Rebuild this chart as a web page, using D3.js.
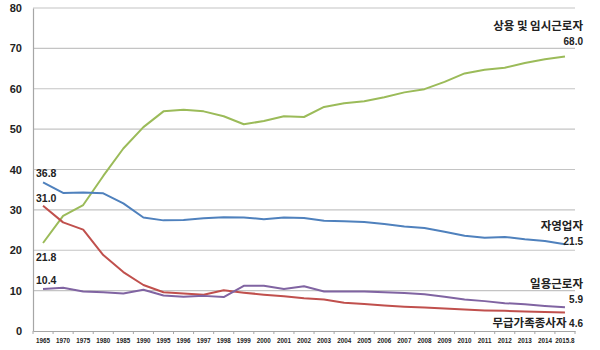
<!DOCTYPE html>
<html><head><meta charset="utf-8">
<script src="https://cdn.jsdelivr.net/npm/d3@7"></script>
<style>body{margin:0;background:#fff}svg{display:block}</style>
</head><body><svg id="c" width="600" height="350"></svg>
<script>
const categories = ["1965","1970","1975","1980","1985","1990","1995","1996","1997","1998","1999","2000","2001","2002","2003","2004","2005","2006","2007","2008","2009","2010","2011","2012","2013","2014","2015.8"];
const regular = [21.8,28.5,31.2,38.4,45.2,50.5,54.4,54.8,54.4,53.2,51.2,52.0,53.2,53.0,55.5,56.4,56.9,57.9,59.1,59.9,61.7,63.8,64.7,65.2,66.4,67.3,68.0];
const selfEmployed = [36.8,34.2,34.3,34.1,31.6,28.1,27.4,27.5,27.9,28.2,28.1,27.7,28.1,28.0,27.3,27.2,27.0,26.5,25.9,25.5,24.6,23.6,23.1,23.3,22.7,22.3,21.5];
const daily = [10.4,10.7,9.8,9.6,9.3,10.2,8.8,8.5,8.7,8.4,11.2,11.2,10.4,11.1,9.8,9.8,9.8,9.6,9.4,9.1,8.5,7.8,7.4,6.9,6.6,6.2,5.9];
const unpaid = [31.0,26.9,25.1,18.8,14.6,11.4,9.6,9.3,9.0,10.1,9.5,9.0,8.6,8.1,7.8,7.0,6.7,6.3,6.0,5.8,5.6,5.3,5.1,5.0,4.8,4.7,4.6];
const yTicks = [0,10,20,30,40,50,60,70,80];
const seriesNames = ["상용 및 임시근로자","자영업자","일용근로자","무급가족종사자"];

const svg = d3.select("#c");
const x = d3.scaleBand().domain(categories).range([33,575]);
const y = d3.scaleLinear().domain([0,80]).range([331,8]);
const numFont = "'Liberation Sans', Arial, sans-serif";
const korFont = "'Noto Sans CJK KR', sans-serif";

// gridlines
svg.append("g").selectAll("line").data(yTicks.filter(d=>d>0)).join("line")
  .attr("x1",33).attr("x2",575).attr("y1",d=>y(d)).attr("y2",d=>y(d))
  .attr("stroke","#c4c4c4").attr("stroke-width",1.2);

// y axis
const yAxis = svg.append("g").attr("transform","translate(33,0)")
  .call(d3.axisLeft(y).tickValues(yTicks).tickSize(0).tickPadding(11));
yAxis.select(".domain").attr("stroke","#a6a6a6").attr("stroke-width",1.2);
yAxis.selectAll("text").attr("font-family",numFont).attr("font-weight","bold")
  .attr("font-size",11).attr("fill","#222");

// x axis
const xAxis = svg.append("g").attr("transform","translate(0,331)")
  .call(d3.axisBottom(x).tickSize(0).tickPadding(8));
xAxis.select(".domain").attr("stroke","#a6a6a6").attr("stroke-width",1.2);
xAxis.selectAll("text").attr("font-family",numFont).attr("font-weight","bold")
  .attr("font-size",6.3).attr("fill","#222");
// boundary tick marks
const bounds = categories.map(c=>x(c)).concat([x(categories[categories.length-1])+x.bandwidth()]);
svg.append("g").selectAll("line").data(bounds).join("line")
  .attr("x1",d=>d).attr("x2",d=>d).attr("y1",331).attr("y2",334)
  .attr("stroke","#a6a6a6");

const cx = c => x(c)+x.bandwidth()/2;
const line = d3.line().x((d,i)=>cx(categories[i])).y(d=>y(d));
const series = [
  {v:regular,color:"#9bbb59"},
  {v:selfEmployed,color:"#4f81bd"},
  {v:unpaid,color:"#c0504d"},
  {v:daily,color:"#8064a2"}
];
svg.append("g").selectAll("path").data(series).join("path")
  .attr("d",d=>line(d.v)).attr("fill","none").attr("stroke",d=>d.color)
  .attr("stroke-width",2).attr("stroke-linejoin","round");

// start value labels
const n = categories.length-1;
const startLabels = [
  {t:selfEmployed[0].toFixed(1), yy:y(selfEmployed[0])-5},
  {t:unpaid[0].toFixed(1), yy:y(unpaid[0])-4},
  {t:regular[0].toFixed(1), yy:y(regular[0])+18},
  {t:daily[0].toFixed(1), yy:y(daily[0])-5}
];
svg.append("g").selectAll("text").data(startLabels).join("text")
  .attr("x",36).attr("y",d=>d.yy).text(d=>d.t)
  .attr("font-family",numFont).attr("font-weight","bold").attr("font-size",10.5).attr("fill","#222");

// end labels
const endG = svg.append("g").attr("fill","#222").attr("text-anchor","end");
const endLabels = [
  {name:seriesNames[0], nameY:y(regular[n])-26, val:regular[n].toFixed(1), valY:y(regular[n])-11},
  {name:seriesNames[1], nameY:y(selfEmployed[n])-14, val:selfEmployed[n].toFixed(1), valY:y(selfEmployed[n])+1},
  {name:seriesNames[2], nameY:y(daily[n])-19, val:daily[n].toFixed(1), valY:y(daily[n])-4}
];
endLabels.forEach(d=>{
  endG.append("text").attr("x",583).attr("y",d.nameY).text(d.name)
    .attr("font-family",korFont).attr("font-weight","bold").attr("font-size",11.5);
  endG.append("text").attr("x",583).attr("y",d.valY).text(d.val)
    .attr("font-family",numFont).attr("font-weight","bold").attr("font-size",10);
});
endG.append("text").attr("x",583).attr("y",y(unpaid[n])+15)
  .attr("font-weight","bold")
  .call(t=>{
    t.append("tspan").attr("font-family",korFont).attr("font-size",11.5).text(seriesNames[3]+" ");
    t.append("tspan").attr("font-family",numFont).attr("font-size",10).text(unpaid[n].toFixed(1));
  });
</script></body></html>
